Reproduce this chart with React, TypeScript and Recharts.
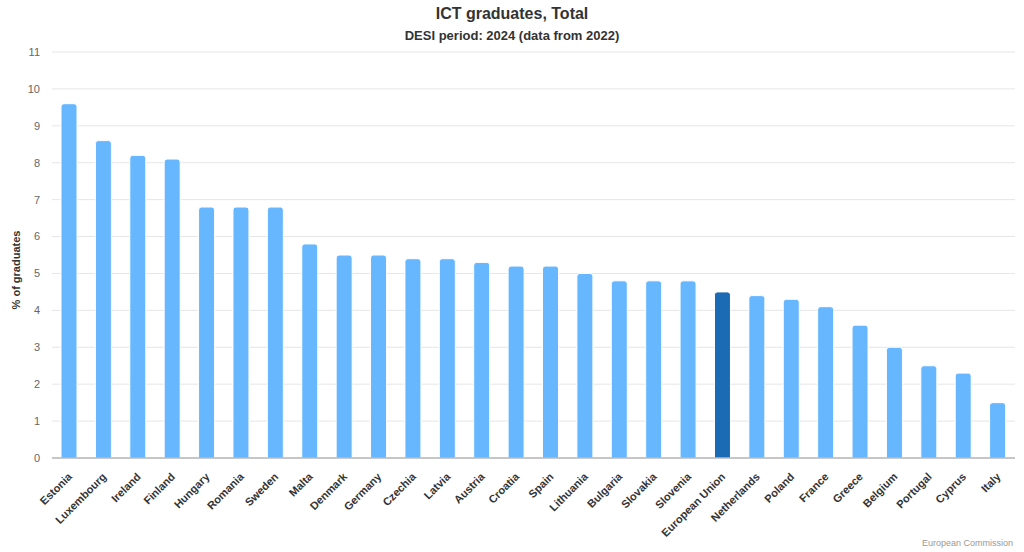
import React from "react";
import { Bar, BarChart, CartesianGrid, Cell, XAxis, YAxis } from "recharts";

const countries = [
  "Estonia", "Luxembourg", "Ireland", "Finland", "Hungary", "Romania", "Sweden",
  "Malta", "Denmark", "Germany", "Czechia", "Latvia", "Austria", "Croatia",
  "Spain", "Lithuania", "Bulgaria", "Slovakia", "Slovenia", "European Union",
  "Netherlands", "Poland", "France", "Greece", "Belgium", "Portugal", "Cyprus", "Italy"
];

const shares = [
  9.6, 8.6, 8.2, 8.1, 6.8, 6.8, 6.8,
  5.8, 5.5, 5.5, 5.4, 5.4, 5.3, 5.2,
  5.2, 5.0, 4.8, 4.8, 4.8, 4.5,
  4.4, 4.3, 4.1, 3.6, 3.0, 2.5, 2.3, 1.5
];

const yTicks = [0, 1, 2, 3, 4, 5, 6, 7, 8, 9, 10, 11];

const data = countries.map((name, i) => ({ name, value: shares[i] }));

const font = "'Liberation Sans', Arial, Helvetica, sans-serif";

function CountryTick(props: any) {
  const { x, y, payload } = props;
  return (
    <g transform={`translate(${x - 2},${y + 6})`}>
      <text
        transform="rotate(-45)"
        textAnchor="end"
        dy="0.7em"
        fontFamily={font}
        fontSize={11}
        fontWeight="bold"
        fill="#333"
      >
        {payload.value}
      </text>
    </g>
  );
}

export default function App() {
  return (
    <div style={{ position: "absolute", left: 0, top: 0, width: 1024, height: 552, fontFamily: font, background: "#fff" }}>
      <div style={{ position: "absolute", top: 5, width: 1024, textAlign: "center", fontSize: 16, fontWeight: "bold", color: "#333" }}>
        ICT graduates, Total
      </div>
      <div style={{ position: "absolute", top: 28, width: 1024, textAlign: "center", fontSize: 13, fontWeight: "bold", color: "#333" }}>
        DESI period: 2024 (data from 2022)
      </div>
      <div
        style={{
          position: "absolute",
          left: 16,
          top: 270,
          transform: "translate(-50%, -50%) rotate(-90deg)",
          fontSize: 11,
          fontWeight: "bold",
          color: "#333",
          whiteSpace: "nowrap"
        }}
      >
        % of graduates
      </div>
      <BarChart
        width={1024}
        height={552}
        data={data}
        margin={{ top: 52, right: 9, left: 0, bottom: 0 }}
      >
        <CartesianGrid vertical={false} stroke="#e6e6e6" />
        <XAxis
          dataKey="name"
          interval={0}
          height={94}
          tickLine={false}
          axisLine={{ stroke: "#999" }}
          tick={<CountryTick />}
        />
        <YAxis
          width={52}
          domain={[0, 11]}
          ticks={yTicks}
          interval={0}
          tickLine={false}
          axisLine={false}
          tickMargin={6}
          tick={{ fill: "#666", fontSize: 11, fontFamily: font }}
        />
        <Bar dataKey="value" barSize={16} stroke="#fff" strokeWidth={1} radius={[3, 3, 0, 0]} isAnimationActive={false}>
          {data.map((d) => (
            <Cell key={d.name} fill={d.name === "European Union" ? "#1a6bb3" : "#66b7ff"} />
          ))}
        </Bar>
      </BarChart>
      <div style={{ position: "absolute", right: 11, top: 538, fontSize: 9, color: "#999" }}>
        European Commission
      </div>
    </div>
  );
}
